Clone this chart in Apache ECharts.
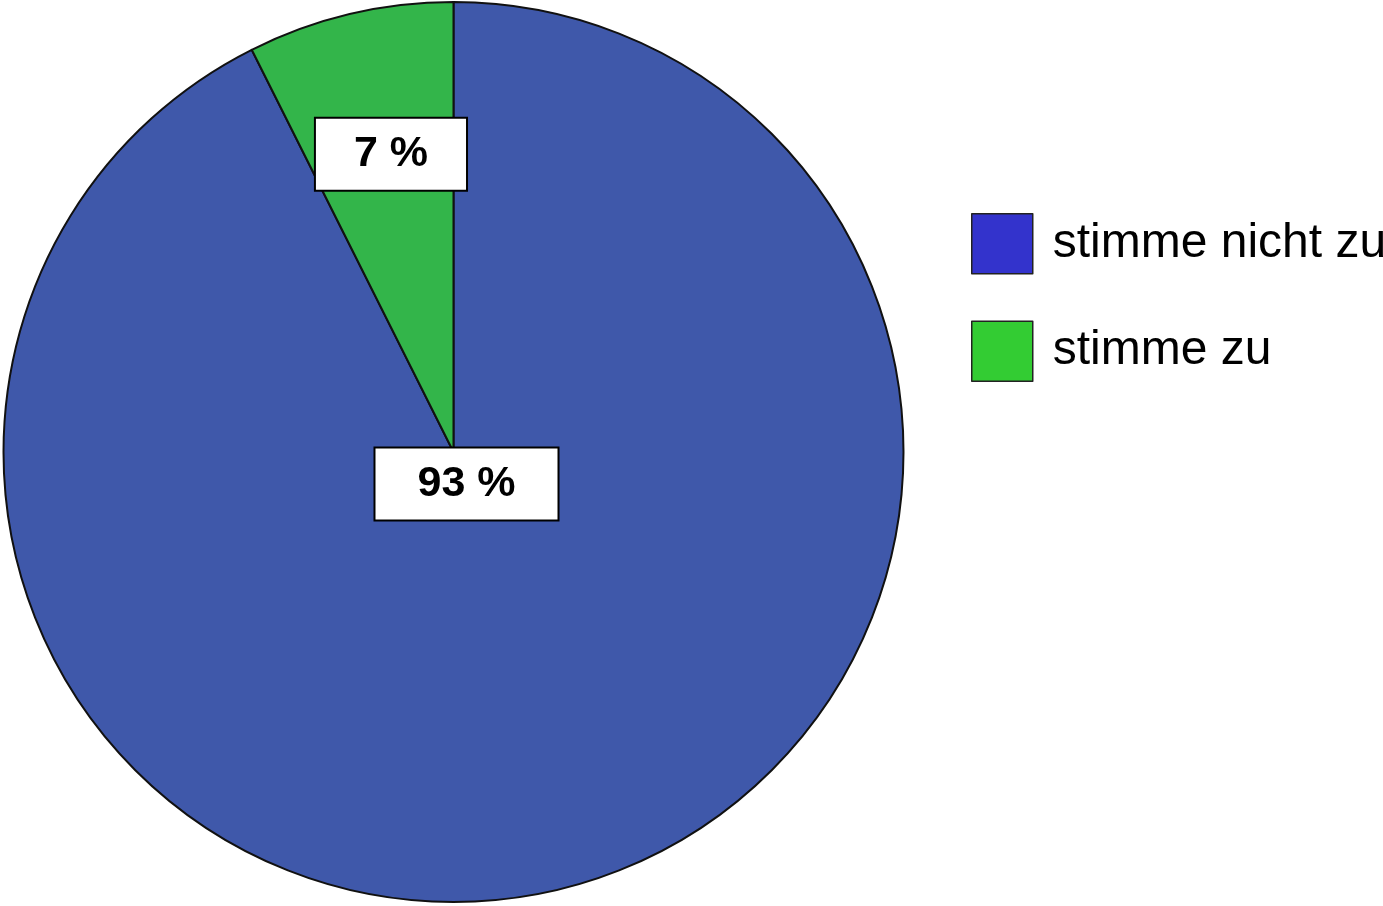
<!DOCTYPE html>
<html>
<head>
<meta charset="utf-8">
<script src="https://cdn.jsdelivr.net/npm/echarts@6/dist/echarts.min.js"></script>
<style>
html,body{margin:0;padding:0;background:#fff;}
#chart{width:1383px;height:906px;}
</style>
</head>
<body>
<div id="chart"></div>
<script>
const categories = ['stimme nicht zu', 'stimme zu'];
const values = [92.6, 7.4];
const sliceColors = ['#3F58AA', '#33B54A'];
const legendColors = ['#3333CC', '#33CC33'];

const chart = echarts.init(document.getElementById('chart'));
const labelShift = [[13, 32], [-10, -76]];
const labelPos = ['center', 'inside'];
const labelPad = [[15, 42, 13, 42], [15, 38, 13, 38]];

chart.setOption({
  backgroundColor: '#ffffff',
  animation: false,
  legend: {
    orient: 'vertical',
    left: 971,
    top: 213,
    padding: 0,
    itemWidth: 61,
    itemHeight: 60,
    itemGap: 46,
    icon: 'rect',
    selectedMode: false,
    textStyle: {
      fontSize: 48,
      color: '#000',
      fontFamily: 'Liberation Sans, Arial, sans-serif',
      padding: [0, 0, 0, 15]
    },
    data: categories.map((c, i) => ({
      name: c,
      itemStyle: { color: legendColors[i], borderColor: '#222', borderWidth: 1.5 }
    }))
  },
  series: [{
    type: 'pie',
    center: [453.5, 452],
    radius: 450,
    startAngle: 90,
    clockwise: true,
    silent: true,
    itemStyle: { borderColor: '#111', borderWidth: 2 },
    labelLine: { show: false },
    labelLayout: function (p) {
      return { dx: labelShift[p.dataIndex][0], dy: labelShift[p.dataIndex][1] };
    },
    data: categories.map((c, i) => ({
      name: c,
      value: values[i],
      itemStyle: { color: sliceColors[i] },
      label: {
        show: true,
        position: labelPos[i],
        formatter: function (p) { return Math.round(p.percent) + ' %'; },
        fontSize: 43,
        fontWeight: 'bold',
        fontFamily: 'Liberation Sans, Arial, sans-serif',
        color: '#000',
        backgroundColor: '#fff',
        borderColor: '#000',
        borderWidth: 2,
        padding: labelPad[i],
        lineHeight: 43
      }
    }))
  }]
});
</script>
</body>
</html>
